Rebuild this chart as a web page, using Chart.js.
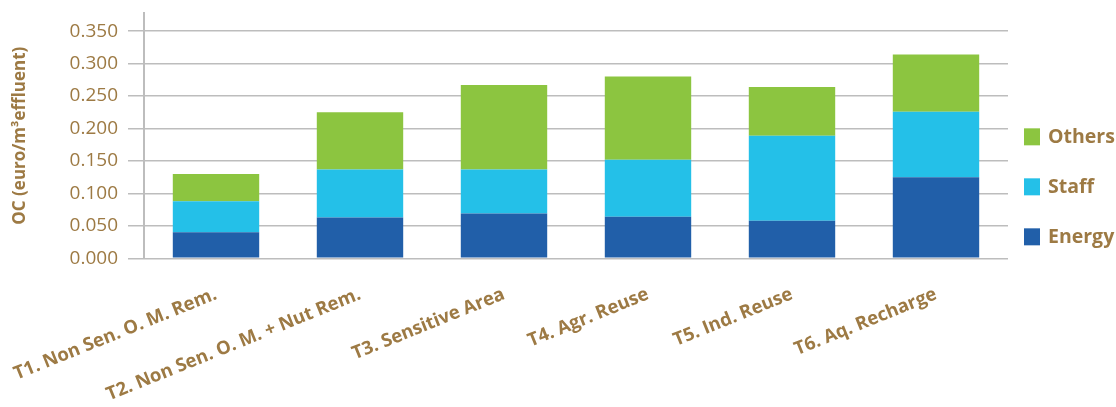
<!DOCTYPE html>
<html>
<head>
<meta charset="utf-8">
<script src="https://cdn.jsdelivr.net/npm/chart.js@4/dist/chart.umd.min.js"></script>
<style>
  html, body { margin: 0; padding: 0; background: #fff; }
  #wrap { width: 1116px; height: 407px; position: relative; }
</style>
</head>
<body>
<div id="wrap"><canvas id="chart-oc"></canvas></div>
<script>
const categories = [
  'T1. Non Sen. O. M. Rem.',
  'T2. Non Sen. O. M. + Nut Rem.',
  'T3. Sensitive Area',
  'T4. Agr. Reuse',
  'T5. Ind. Reuse',
  'T6. Aq. Recharge',
];
const energy = [0.040, 0.063, 0.069, 0.064, 0.058, 0.125];
const staff = [0.048, 0.074, 0.068, 0.088, 0.131, 0.101];
const others = [0.042, 0.088, 0.130, 0.128, 0.075, 0.088];
const yTicks = [0, 0.05, 0.1, 0.15, 0.2, 0.25, 0.3, 0.35];

const brown = '#9d7a44';
const grid = '#bdbdbd';
const font = '"Open Sans", "Noto Sans", sans-serif';

// Legend on the right, stacked top-down in reverse dataset order
const sideLegend = {
  id: 'sideLegend',
  afterDraw(chart) {
    const { ctx, chartArea } = chart;
    const items = chart.data.datasets.slice().reverse();
    const x = chartArea.right + 16;
    const step = 50;
    const y0 = chartArea.bottom - 22 - step * (items.length - 1);
    ctx.save();
    ctx.font = `bold 19.5px ${font}`;
    ctx.textBaseline = 'middle';
    items.forEach((ds, i) => {
      const cy = y0 + i * step;
      ctx.fillStyle = ds.backgroundColor;
      ctx.fillRect(x, cy - 8, 16, 17);
      ctx.fillStyle = brown;
      ctx.fillText(ds.label, x + 24, cy + 1);
    });
    ctx.restore();
  },
};

const ctx = document.getElementById('chart-oc').getContext('2d');
new Chart(ctx, {
  type: 'bar',
  data: {
    labels: categories,
    datasets: [
      { label: 'Energy', data: energy, backgroundColor: '#215fa9' },
      { label: 'Staff', data: staff, backgroundColor: '#24c0e8' },
      { label: 'Others', data: others, backgroundColor: '#8cc540' },
    ],
  },
  plugins: [sideLegend],
  options: {
    responsive: true,
    maintainAspectRatio: false,
    animation: false,
    layout: { padding: { top: 13, left: 10, right: 108, bottom: -16 } },
    datasets: { bar: { barPercentage: 0.6, categoryPercentage: 1 } },
    plugins: {
      tooltip: { enabled: false },
      legend: { display: false },
    },
    scales: {
      x: {
        stacked: true,
        grid: { display: false },
        border: { display: false },
        afterFit: (scale) => {
          // long first label may hang past the left edge of the plot
          scale.paddingLeft = 0;
        },
        ticks: {
          color: brown,
          font: { family: font, size: 18.5, weight: 'bold' },
          minRotation: 22,
          maxRotation: 22,
          autoSkip: false,
          padding: 17,
        },
      },
      y: {
        stacked: true,
        min: 0,
        max: 0.378,
        afterBuildTicks: (scale) => {
          scale.ticks = yTicks.map((v) => ({ value: v }));
        },
        afterFit: (scale) => {
          scale.width = 134;
          scale.paddingTop = 0;
          scale.paddingBottom = 0;
        },
        grid: { color: grid, lineWidth: 1.5, tickLength: 16 },
        border: { color: grid, width: 2 },
        ticks: {
          color: brown,
          font: { family: font, size: 19 },
          padding: 10,
          callback: (v) => v.toFixed(3),
        },
        title: {
          display: true,
          text: 'OC (euro/m³effluent)',
          color: brown,
          font: { family: font, size: 17, weight: 'bold' },
          padding: { top: 0, bottom: 0 },
        },
      },
    },
  },
});
</script>
</body>
</html>
